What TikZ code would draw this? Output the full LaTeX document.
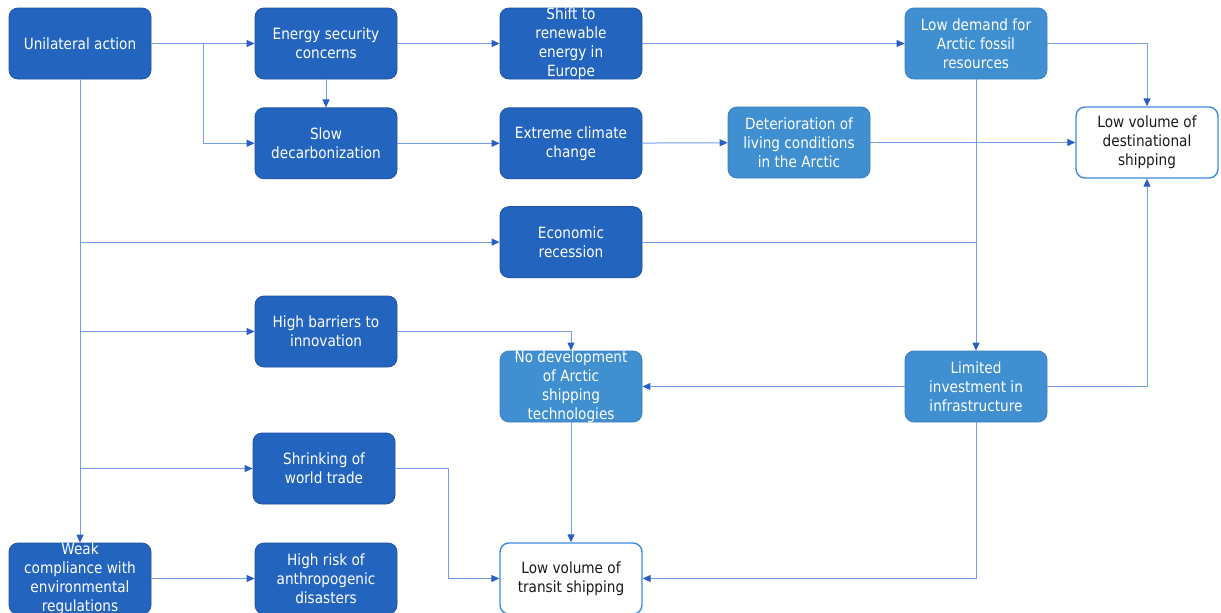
\documentclass[tikz,border=0pt]{standalone}
\usepackage{fontspec}
\setmainfont[FakeStretch=0.88]{DejaVu Sans}
\usetikzlibrary{arrows.meta, positioning}
\definecolor{boxdark}{HTML}{2364BE}
\definecolor{boxlight}{HTML}{408FD0}
\definecolor{boxedge}{HTML}{1F52A3}
\definecolor{lightedge}{HTML}{3A7FBD}
\definecolor{linkblue}{HTML}{739FE8}
\definecolor{tipblue}{HTML}{2A5EC6}
\definecolor{outcomeedge}{HTML}{3D8BDB}
\definecolor{textdark}{HTML}{1A1A1A}

\tikzset{
  driver/.style={draw=boxedge, fill=boxdark, rounded corners=9pt, line width=0.8pt,
                 minimum width=142pt, minimum height=71pt, inner sep=2pt, align=center,
                 text=white, font=\fontsize{15.5}{19}\selectfont},
  impact/.style={driver, fill=boxlight, draw=lightedge},
  outcome/.style={driver, fill=white, draw=outcomeedge, line width=1.4pt, text=textdark},
  tall/.style={inner ysep=-1pt},
  link/.style={draw=linkblue, line width=1pt, -{Triangle[color=tipblue, length=8pt, width=7pt]}},
  plain/.style={draw=linkblue, line width=1pt},
}

\begin{document}
\begin{tikzpicture}[x=1pt, y=-1pt]
  \useasboundingbox (0,0) rectangle (1221,613);

  \node[driver] (ua) at (80,43.5) {Unilateral action};
  \node[driver] (esc) at (326,43.5) {Energy security\\concerns};
  \node[driver, below=28pt of esc] (sd) {Slow\\decarbonization};
  \node[driver, tall] (sre) at (571,43.5) {Shift to\\renewable\\energy in\\Europe};
  \node[driver, below=28pt of sre] (ecc) {Extreme climate\\change};
  \node[impact] (dlc) at (799,142.5) {Deterioration of\\living conditions\\in the Arctic};
  \node[impact] (ldf) at (976,43.5) {Low demand for\\Arctic fossil\\resources};
  \node[outcome] (lvd) at (1147,142.5) {Low volume of\\destinational\\shipping};
  \node[driver, below=27pt of ecc] (er) {Economic\\recession};
  \node[driver] (hbi) at (326,331.5) {High barriers to\\innovation};
  \node[impact, tall] (nda) at (571,386.5) {No development\\of Arctic\\shipping\\technologies};
  \node[impact] (lii) at (976,386.5) {Limited\\investment in\\infrastructure};
  \node[driver] (swt) at (324,468.5) {Shrinking of\\world trade};
  \node[driver, tall] (wc) at (80,578.5) {Weak\\compliance with\\environmental\\regulations};
  \node[driver] (hra) at (326,578.5) {High risk of\\anthropogenic\\disasters};
  \node[outcome] (lvt) at (571,578.5) {Low volume of\\transit shipping};

  \coordinate (split) at (203,43.5);
  \coordinate (bend) at (448,468.5);

  \draw[link] (ua) -- (esc);
  \draw[link] (ua.east) -- (split) |- (sd);
  \draw[link] (esc) -- (sd);
  \draw[link] (esc) -- (sre);
  \draw[link] (sre) -- (ldf);
  \draw[link] (ldf.east) -| (lvd);
  \draw[link] (sd) -- (ecc);
  \draw[link] (ecc) -- (dlc);
  \draw[link] (dlc) -- (lvd);
  \draw[link] (ua) -- (wc);
  \draw[link] (ua.south |- er) -- (er);
  \draw[link] (ua.south |- hbi) -- (hbi);
  \draw[link] (ua.south |- swt) -- (swt);
  \draw[link] (hbi) -| (nda);
  \draw[plain] (er) -- (er -| ldf);
  \draw[link] (ldf) -- (lii);
  \draw[link] (lii) -- (nda);
  \draw[link] (lii) -| (lvd);
  \draw[link] (lii) |- (lvt);
  \draw[link] (nda) -- (lvt);
  \draw[link] (swt) -- (bend) |- (lvt);
  \draw[link] (wc) -- (hra);
\end{tikzpicture}
\end{document}
